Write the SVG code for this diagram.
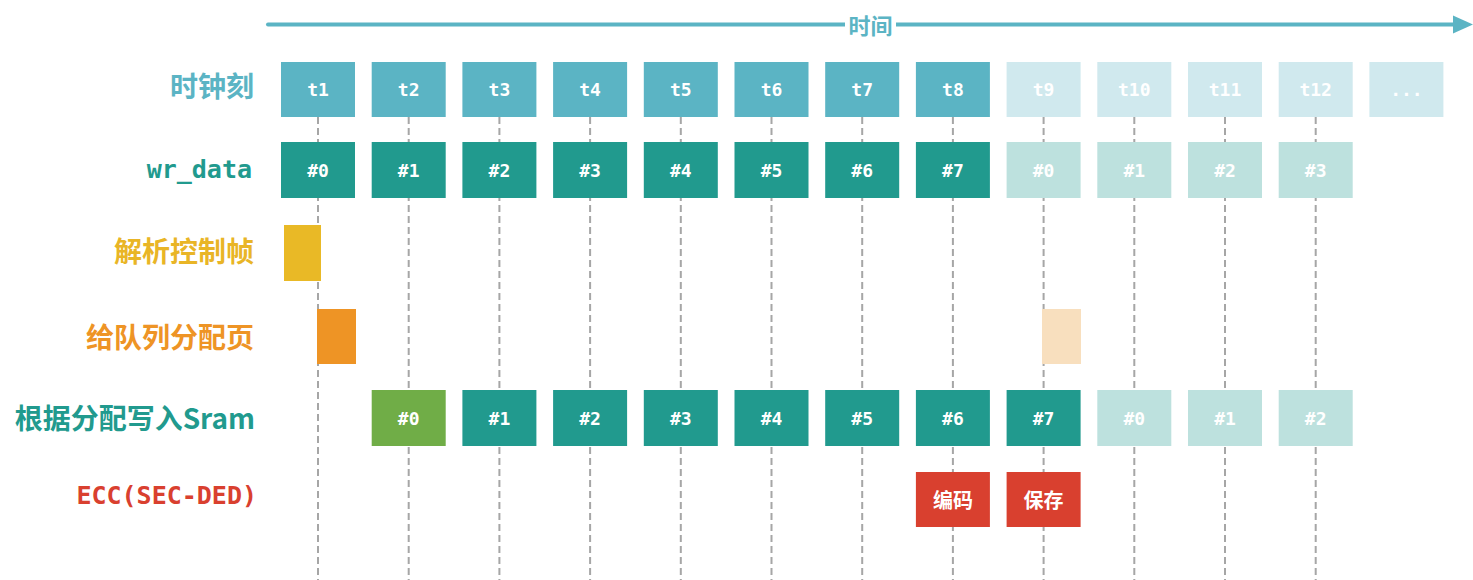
<svg xmlns="http://www.w3.org/2000/svg" width="1473" height="580" viewBox="0 0 1473 580">
<style>
.lbl{font-family:"Noto Sans CJK SC","Noto Sans",sans-serif;font-weight:bold;font-size:28px;text-anchor:end;dominant-baseline:central}
.mlbl{font-family:"DejaVu Sans Mono","Liberation Mono",monospace;font-weight:bold;font-size:25px;text-anchor:end;dominant-baseline:central}
.bt{font-family:"DejaVu Sans Mono","Liberation Mono",monospace;font-weight:bold;font-size:18px;fill:#fff;text-anchor:middle;dominant-baseline:central}
.ct{font-family:"Noto Sans CJK SC","Noto Sans",sans-serif;font-weight:bold;font-size:20px;fill:#fff;text-anchor:middle;dominant-baseline:central}
.clk{fill:#5BB4C4}.clkl{fill:#D0E9EE}
.wd{fill:#219A8E}.wdl{fill:#BDE1DE}
.grn{fill:#70AD47}.red{fill:#D9402F}
.dash{stroke:#A6A6A6;stroke-width:2;stroke-dasharray:7 4;fill:none}
</style>
<g id="connectors">
<path d="M268,24.5 H1455" stroke="#5BB4C4" stroke-width="4" stroke-linecap="round" fill="none"/>
<path d="M1453,15.5 L1473,24.5 L1453,33.5 z" fill="#5BB4C4"/>
<rect x="845" y="10" width="51" height="30" fill="#fff"/>
<text x="870.5" y="24" style="font-family:'Noto Sans CJK SC','Noto Sans',sans-serif;font-weight:bold;font-size:22px;fill:#5BB4C4;text-anchor:middle;dominant-baseline:central">时间</text>
<g class="dash">
<path d="M318,117 V580"/><path d="M408.7,117 V580"/><path d="M499.4,117 V580"/><path d="M590.1,117 V580"/>
<path d="M680.8,117 V580"/><path d="M771.5,117 V580"/><path d="M862.2,117 V580"/><path d="M952.9,117 V580"/>
<path d="M1043.6,117 V580"/><path d="M1134.3,117 V580"/><path d="M1225,117 V580"/><path d="M1315.7,117 V580"/>
</g>
</g>
<g id="labels">
<text class="lbl" x="254" y="85" fill="#5BB4C4">时钟刻</text>
<text class="mlbl" x="252" y="169" fill="#219A8E">wr_data</text>
<text class="lbl" x="254" y="250" fill="#E9B526">解析控制帧</text>
<text class="lbl" x="254" y="336" fill="#EE9425">给队列分配页</text>
<text class="lbl" x="255" y="417" fill="#219A8E">根据分配写入Sram</text>
<text class="mlbl" x="257" y="495" fill="#D9402F">ECC(SEC-DED)</text>
</g>
<g id="clock">
<g id="t1"><rect class="clk" x="281" y="62" width="74" height="55"/><text class="bt" x="318" y="89.5">t1</text></g>
<g id="t2"><rect class="clk" x="371.7" y="62" width="74" height="55"/><text class="bt" x="408.7" y="89.5">t2</text></g>
<g id="t3"><rect class="clk" x="462.4" y="62" width="74" height="55"/><text class="bt" x="499.4" y="89.5">t3</text></g>
<g id="t4"><rect class="clk" x="553.1" y="62" width="74" height="55"/><text class="bt" x="590.1" y="89.5">t4</text></g>
<g id="t5"><rect class="clk" x="643.8" y="62" width="74" height="55"/><text class="bt" x="680.8" y="89.5">t5</text></g>
<g id="t6"><rect class="clk" x="734.5" y="62" width="74" height="55"/><text class="bt" x="771.5" y="89.5">t6</text></g>
<g id="t7"><rect class="clk" x="825.2" y="62" width="74" height="55"/><text class="bt" x="862.2" y="89.5">t7</text></g>
<g id="t8"><rect class="clk" x="915.9" y="62" width="74" height="55"/><text class="bt" x="952.9" y="89.5">t8</text></g>
<g id="t9"><rect class="clkl" x="1006.6" y="62" width="74" height="55"/><text class="bt" x="1043.6" y="89.5">t9</text></g>
<g id="t10"><rect class="clkl" x="1097.3" y="62" width="74" height="55"/><text class="bt" x="1134.3" y="89.5">t10</text></g>
<g id="t11"><rect class="clkl" x="1188" y="62" width="74" height="55"/><text class="bt" x="1225" y="89.5">t11</text></g>
<g id="t12"><rect class="clkl" x="1278.7" y="62" width="74" height="55"/><text class="bt" x="1315.7" y="89.5">t12</text></g>
<g id="tmore"><rect class="clkl" x="1369.4" y="62" width="74" height="55"/><text class="bt" x="1406.4" y="89.5">...</text></g>
</g>
<g id="wrdata">
<g id="w1"><rect class="wd" x="281" y="142" width="74" height="56"/><text class="bt" x="318" y="170">#0</text></g>
<g id="w2"><rect class="wd" x="371.7" y="142" width="74" height="56"/><text class="bt" x="408.7" y="170">#1</text></g>
<g id="w3"><rect class="wd" x="462.4" y="142" width="74" height="56"/><text class="bt" x="499.4" y="170">#2</text></g>
<g id="w4"><rect class="wd" x="553.1" y="142" width="74" height="56"/><text class="bt" x="590.1" y="170">#3</text></g>
<g id="w5"><rect class="wd" x="643.8" y="142" width="74" height="56"/><text class="bt" x="680.8" y="170">#4</text></g>
<g id="w6"><rect class="wd" x="734.5" y="142" width="74" height="56"/><text class="bt" x="771.5" y="170">#5</text></g>
<g id="w7"><rect class="wd" x="825.2" y="142" width="74" height="56"/><text class="bt" x="862.2" y="170">#6</text></g>
<g id="w8"><rect class="wd" x="915.9" y="142" width="74" height="56"/><text class="bt" x="952.9" y="170">#7</text></g>
<g id="w9"><rect class="wdl" x="1006.6" y="142" width="74" height="56"/><text class="bt" x="1043.6" y="170">#0</text></g>
<g id="w10"><rect class="wdl" x="1097.3" y="142" width="74" height="56"/><text class="bt" x="1134.3" y="170">#1</text></g>
<g id="w11"><rect class="wdl" x="1188" y="142" width="74" height="56"/><text class="bt" x="1225" y="170">#2</text></g>
<g id="w12"><rect class="wdl" x="1278.7" y="142" width="74" height="56"/><text class="bt" x="1315.7" y="170">#3</text></g>
</g>
<g id="parse"><rect x="284" y="225" width="37" height="56" fill="#E9B926"/></g>
<g id="alloc"><rect x="317" y="309" width="39" height="55" fill="#EE9425"/></g>
<g id="alloc2"><rect x="1042" y="309" width="39" height="55" fill="#F8DFBE"/></g>
<g id="sram">
<g id="s0"><rect class="grn" x="371.7" y="390" width="74" height="56"/><text class="bt" x="408.7" y="418">#0</text></g>
<g id="s1"><rect class="wd" x="462.4" y="390" width="74" height="56"/><text class="bt" x="499.4" y="418">#1</text></g>
<g id="s2"><rect class="wd" x="553.1" y="390" width="74" height="56"/><text class="bt" x="590.1" y="418">#2</text></g>
<g id="s3"><rect class="wd" x="643.8" y="390" width="74" height="56"/><text class="bt" x="680.8" y="418">#3</text></g>
<g id="s4"><rect class="wd" x="734.5" y="390" width="74" height="56"/><text class="bt" x="771.5" y="418">#4</text></g>
<g id="s5"><rect class="wd" x="825.2" y="390" width="74" height="56"/><text class="bt" x="862.2" y="418">#5</text></g>
<g id="s6"><rect class="wd" x="915.9" y="390" width="74" height="56"/><text class="bt" x="952.9" y="418">#6</text></g>
<g id="s7"><rect class="wd" x="1006.6" y="390" width="74" height="56"/><text class="bt" x="1043.6" y="418">#7</text></g>
<g id="s8"><rect class="wdl" x="1097.3" y="390" width="74" height="56"/><text class="bt" x="1134.3" y="418">#0</text></g>
<g id="s9"><rect class="wdl" x="1188" y="390" width="74" height="56"/><text class="bt" x="1225" y="418">#1</text></g>
<g id="s10"><rect class="wdl" x="1278.7" y="390" width="74" height="56"/><text class="bt" x="1315.7" y="418">#2</text></g>
</g>
<g id="ecc">
<g id="enc"><rect class="red" x="915.9" y="472" width="74" height="55"/><text class="ct" x="952.9" y="499">编码</text></g>
<g id="save"><rect class="red" x="1006.6" y="472" width="74" height="55"/><text class="ct" x="1043.6" y="499">保存</text></g>
</g>
</svg>
